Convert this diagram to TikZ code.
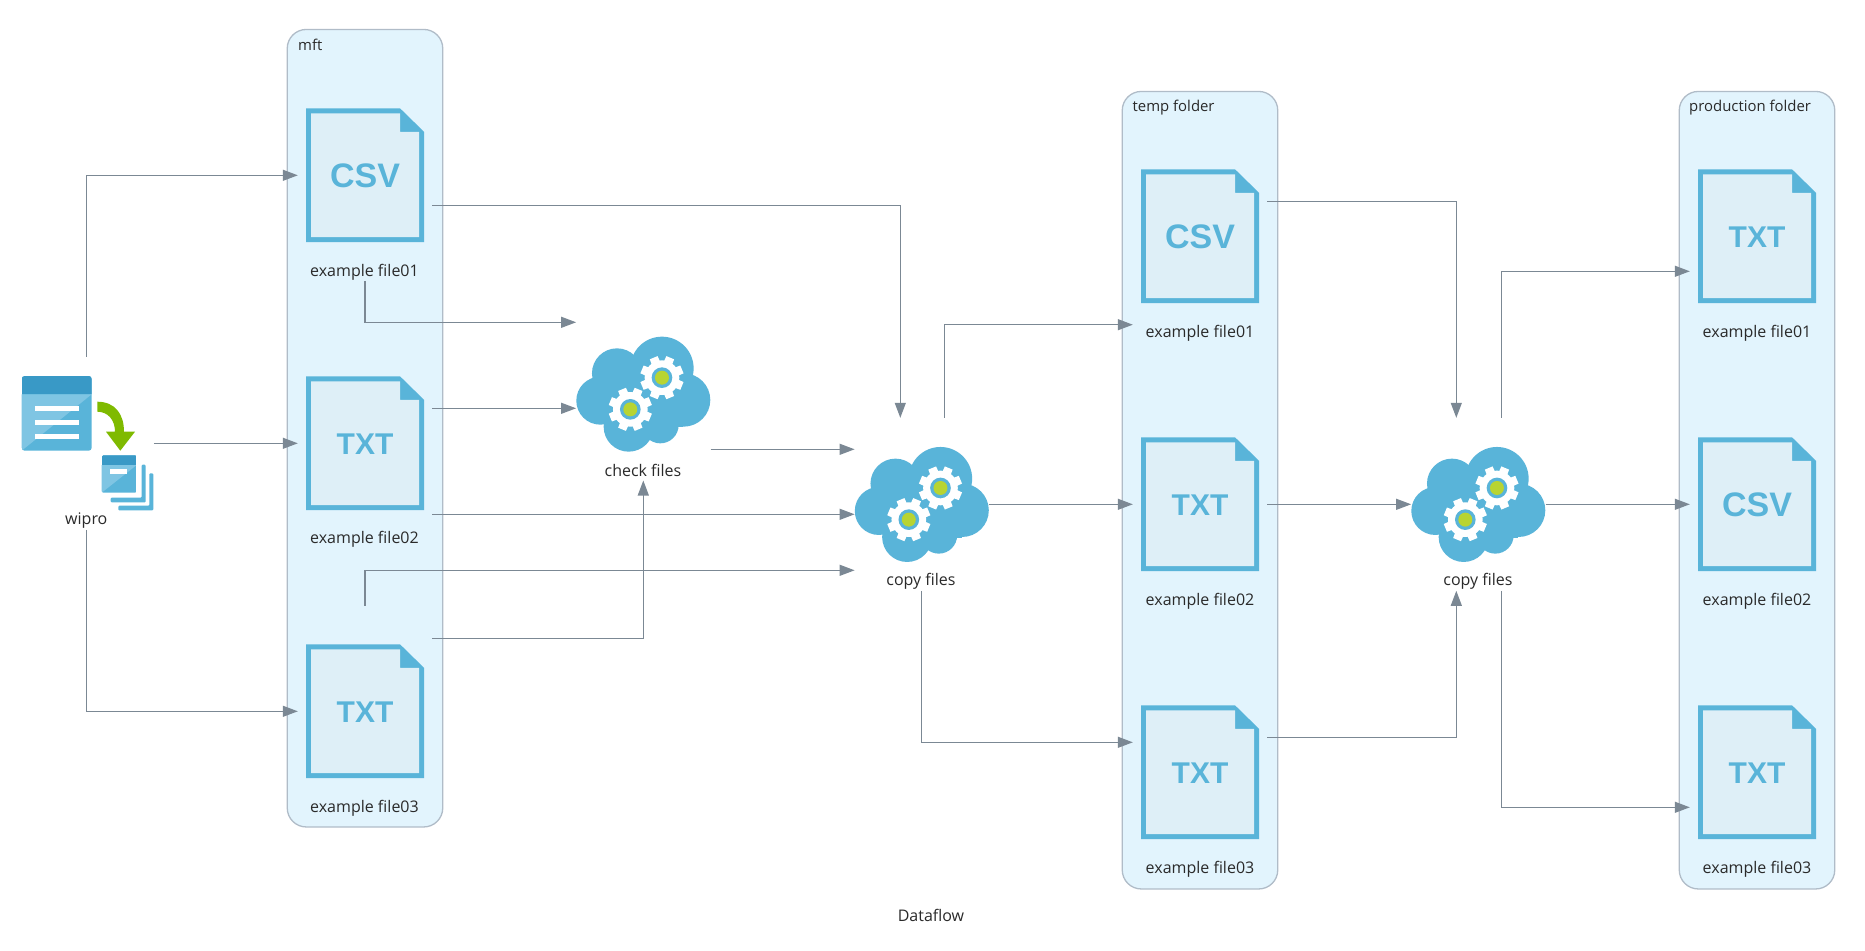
\documentclass[tikz,border=0pt]{standalone}
\usepackage{fontspec}
\setmainfont{Open Sans}
\newfontfamily\iconfont{Liberation Sans}
\usetikzlibrary{arrows.meta,calc}
\definecolor{azure}{HTML}{59B4D9}
\definecolor{azdark}{HTML}{3999C6}
\definecolor{azlight}{HTML}{7FC5E3}
\definecolor{filefill}{HTML}{DEEFF7}
\definecolor{clusterfill}{HTML}{E2F4FD}
\definecolor{clusterline}{HTML}{B0BCC8}
\definecolor{edgecol}{HTML}{7B8894}
\definecolor{azgreen}{HTML}{7FBA00}
\definecolor{gearcore}{HTML}{B8D432}
\definecolor{txt}{HTML}{2A2A2A}
\tikzset{
  x=1pt,y=-1pt,
  nodebox/.style={rectangle,inner sep=0pt,outer sep=0pt,minimum width=134.4pt},
  filebox/.style={nodebox,minimum height=211pt},
  cloudbox/.style={nodebox,minimum height=173pt},
  lab/.style={inner sep=0pt,text=txt,font=\fontsize{16}{18}\selectfont},
  clusterbox/.style={draw=clusterline,fill=clusterfill,line width=1.3pt,rounded corners=19pt},
  clusterlab/.style={inner sep=0pt,anchor=west,text=txt,font=\fontsize{14.9}{17}\selectfont},
  conn/.style={draw=edgecol,line width=1.2pt,-{Triangle[length=15pt,width=11pt]}},
  pics/fileicon/.style 2 args={code={
    \fill[azure] (-59,-67) -- (35,-67) -- (59,-43.5) -- (59,66.7) -- (-59,66.7) -- cycle;
    \fill[filefill] (-54,-62) -- (35,-62) -- (35,-43.5) -- (54,-43.5) -- (54,61.7) -- (-54,61.7) -- cycle;
    \node[inner sep=0pt,text=azure,font=\iconfont\bfseries\fontsize{#2}{#2}\selectfont] at (0,0.5) {#1};
  }},
  pics/gearicon/.style={code={
    \fill[white] (0,0) circle (52/3);
    \foreach \a in {22.5,67.5,...,360}{
      \fill[white] (\a-16:48/3) -- (\a-11:66/3) -- (\a+11:66/3) -- (\a+16:48/3) -- cycle;
    }
    \fill[azure] (0,0) circle (31/3);
    \fill[gearcore] (0,0) circle (21/3);
  }},
  pics/cloudicon/.style={code={
    \fill[azure] (56/3,-77/3) circle (95/3);
    \fill[azure] (-79/3,-62/3) circle (75/3);
    \fill[azure] (-129/3,20/3) circle (72/3);
    \fill[azure] (121/3,18/3) circle (80/3);
    \fill[azure] (-44/3,98/3) circle (75/3);
    \fill[azure] (51/3,93/3) circle (55/3);
    \fill[azure] (-80/3,-40/3) rectangle (120/3,100/3);
    \pic at (56/3,-49/3) {gearicon};
    \pic at (-39/3,46/3) {gearicon};
  }},
  pics/wiproicon/.style={code={
    \begin{scope}[shift={(-86.7,-443.3)}]
      \begin{scope}
        \clip[rounded corners=3pt] (21.7,376) rectangle (91.7,450.7);
        \fill[azure] (21.7,376) rectangle (91.7,450.7);
        \fill[azlight] (21.7,394.3) -- (91.7,394.3) -- (21.7,450.7) -- cycle;
        \fill[azdark] (21.7,376) rectangle (91.7,394.3);
      \end{scope}
      \fill[white] (35,406) rectangle (79.3,411);
      \fill[white] (35,420) rectangle (79.3,425);
      \fill[white] (35,434.3) rectangle (79.3,439.3);
      \fill[azgreen] (97.3,401.7) .. controls (115,401.7) and (124,414) .. (124,431.7)
        -- (135,431.7) -- (120.3,450.7) -- (106,431.7) -- (115,431.7)
        .. controls (115,420) and (108,411.7) .. (97.3,411.7) -- cycle;
      \begin{scope}
        \clip[rounded corners=1.5pt] (101.7,455.3) rectangle (136.7,492.7);
        \fill[azure] (101.7,455.3) rectangle (136.7,492.7);
        \fill[azlight] (101.7,465) -- (136.7,465) -- (101.7,492.7) -- cycle;
        \fill[azdark] (101.7,455.3) rectangle (136.7,465);
      \end{scope}
      \fill[white] (110,469.3) rectangle (127.3,474);
      \fill[azure,rounded corners=1pt] (141.7,464.7) -- (145.7,464.7) -- (145.7,502.3) -- (110.7,502.3) -- (110.7,497.7) -- (141.7,497.7) -- cycle;
      \fill[azure,rounded corners=1pt] (149.3,473.3) -- (153.3,473.3) -- (153.3,510.3) -- (118.3,510.3) -- (118.3,505.7) -- (149.3,505.7) -- cycle;
    \end{scope}
  }},
}
\begin{document}
\begin{tikzpicture}
\useasboundingbox (0,0) rectangle (1865,950);
\fill[white] (0,0) rectangle (1865,950);
% clusters
\node[clusterbox,rectangle,inner sep=0pt,minimum width=155.5pt,minimum height=797.5pt] (cm) at (365,428.2) {};
\node[clusterbox,rectangle,inner sep=0pt,minimum width=155.5pt,minimum height=797.5pt] (ct) at (1200,490.2) {};
\node[clusterbox,rectangle,inner sep=0pt,minimum width=155.5pt,minimum height=797.5pt] (cp) at (1757,490.2) {};
\node[clusterlab] (lcm) at (298,45) {mft};
\node[clusterlab] (lct) at (1132.5,107.3) {temp folder};
\node[clusterlab] (lcp) at (1689,107.3) {production folder};
% node boxes
\node[cloudbox] (w) at (86.7,443.3) {};
\node[filebox] (f1) at (365,175.3) {};
\node[filebox] (f2) at (365,443.3) {};
\node[filebox] (f3) at (365,711.3) {};
\node[cloudbox] (c0) at (643.3,394) {};
\node[cloudbox] (c1) at (921.8,504.3) {};
\node[filebox] (t1) at (1200,236.3) {};
\node[filebox] (t2) at (1200,504.3) {};
\node[filebox] (t3) at (1200,772.3) {};
\node[cloudbox] (c2) at (1478.3,504.3) {};
\node[filebox] (p1) at (1757,236.3) {};
\node[filebox] (p2) at (1757,504.3) {};
\node[filebox] (p3) at (1757,772.3) {};
% icons
\pic at (w) {wiproicon};
\pic at (f1) {fileicon={CSV}{34}};
\pic at (f2) {fileicon={TXT}{30}};
\pic at (f3) {fileicon={TXT}{30}};
\pic at (t1) {fileicon={CSV}{34}};
\pic at (t2) {fileicon={TXT}{30}};
\pic at (t3) {fileicon={TXT}{30}};
\pic at (p1) {fileicon={TXT}{30}};
\pic at (p2) {fileicon={CSV}{34}};
\pic at (p3) {fileicon={TXT}{30}};
\pic at (c0) {cloudicon};
\pic at (c1) {cloudicon};
\pic at (c2) {cloudicon};
% labels
\node[lab] (lw) at (86.3,520.5) {wipro};
\node[lab] (lf1) at (364.5,272) {example file01};
\node[lab] (lf2) at (364.5,539.7) {example file02};
\node[lab] (lf3) at (364.5,808) {example file03};
\node[lab] (lc0) at (643,470.5) {check files};
\node[lab] (lc1) at (921,581) {copy files};
\node[lab] (lt1) at (1200,333.5) {example file01};
\node[lab] (lt2) at (1200,601.5) {example file02};
\node[lab] (lt3) at (1200,869.5) {example file03};
\node[lab] (lc2) at (1478,581) {copy files};
\node[lab] (lp1) at (1757,333.5) {example file01};
\node[lab] (lp2) at (1757,601.5) {example file02};
\node[lab] (lp3) at (1757,869.5) {example file03};
\node[lab] (title) at (931,915) {Dataflow};
% connectors
\draw[conn] (w.north) |- (f1.west);
\draw[conn] (w.east) -- (f2.west);
\draw[conn] (w.south) |- (f3.west);
\draw[conn] ([yshift=-30.4pt]f1.east) -| ([xshift=-21.5pt]c1.north);
\draw[conn] (f1.south) |- ([yshift=71.7pt]c0.west);
\draw[conn] ([yshift=35pt]f2.east) -- ([yshift=-14.3pt]c0.west);
\draw[conn] ([yshift=-71pt]f2.east) -- ([yshift=-10pt]c1.west);
\draw[conn] (f3.north) |- ([yshift=-66pt]c1.west);
\draw[conn] ([yshift=72.6pt]f3.east) -| (c0.south);
\draw[conn] ([yshift=-55.3pt]c0.east) -- ([yshift=55pt]c1.west);
\draw[conn] ([xshift=22.6pt]c1.north) |- ([yshift=-88.4pt]t1.west);
\draw[conn] (c1.east) -- (t2.west);
\draw[conn] (c1.south) |- ([yshift=30pt]t3.west);
\draw[conn] ([yshift=35pt]t1.east) -| ([xshift=-22pt]c2.north);
\draw[conn] (t2.east) -- (c2.west);
\draw[conn] ([yshift=35pt]t3.east) -| ([xshift=-22pt]c2.south);
\draw[conn] ([xshift=23pt]c2.north) |- ([yshift=-35pt]p1.west);
\draw[conn] (c2.east) -- (p2.west);
\draw[conn] ([xshift=23pt]c2.south) |- ([yshift=-35pt]p3.west);
\end{tikzpicture}
\end{document}
